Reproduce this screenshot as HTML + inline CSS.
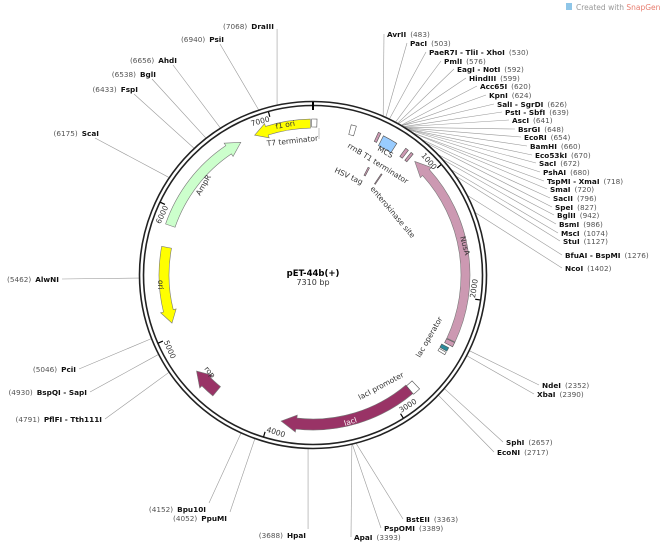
<!DOCTYPE html>
<html><head><meta charset="utf-8"><style>
body{margin:0;background:#fff;}
svg{display:block;font-family:"DejaVu Sans","Liberation Sans",sans-serif;}
.n{font-size:7.3px;fill:#555;}
.b{font-size:7.3px;font-weight:bold;fill:#111;}
.f{font-size:7.5px;fill:#333;}
</style></head><body>
<svg id="s" width="660" height="547" viewBox="0 0 660 547" xmlns="http://www.w3.org/2000/svg">
<text x="576" y="10" style="font-size:7.5px;fill:#999">Created with <tspan fill="#e87d6f">SnapGene</tspan>®</text>
<rect x="566" y="3" width="6" height="7" fill="#8fc6e8"/>
<g id="lines" stroke="#999" stroke-width="0.6" fill="none"></g>
<circle cx="313" cy="275" r="173.5" fill="none" stroke="#222" stroke-width="1.6"/>
<circle cx="313" cy="275" r="169.5" fill="none" stroke="#222" stroke-width="1.6"/>
<line x1="313" y1="102" x2="313" y2="110" stroke="#000" stroke-width="2"/>
<g id="feat"></g>
<g id="txt"></g>
<text x="313" y="276" text-anchor="middle" style="font-size:8.5px;font-weight:bold">pET-44b(+)</text>
<text x="313" y="285" text-anchor="middle" style="font-size:8px;fill:#333">7310 bp</text>
<text class="f" transform="translate(267,146) rotate(-6)">T7 terminator</text>
<line x1="319" y1="128" x2="319" y2="139" stroke="#999" stroke-width="0.6"/>
<text class="f" transform="translate(347,147) rotate(32)">rrnB T1 terminator</text>
<text class="f" transform="translate(377,150) rotate(30)">MCS</text>
<text class="f" transform="translate(334,172) rotate(25)">HSV tag</text>
<text class="f" transform="translate(370,189) rotate(50)">enterokinase site</text>
<text class="f" transform="translate(420,358) rotate(-60)">lac operator</text>
<text class="f" transform="translate(360,400) rotate(-28)">lacI promoter</text>
<text class="f" transform="translate(204,369) rotate(50)">rop</text>
<text class="f" transform="translate(200,196) rotate(-60)">AmpR</text>
<text class="f" transform="translate(158,280) rotate(90)">ori</text>
<text class="f" transform="translate(276,129) rotate(-10)">f1 ori</text>
<text class="f" transform="translate(460,237) rotate(75)">NusA</text>
<text style="font-size:7.5px;fill:#fff" transform="translate(345,426) rotate(-18)">lacI</text>
</svg>
<script>
var cx=313,cy=275,N=7310,NS="http://www.w3.org/2000/svg";
function P(pos,r){var a=pos/N*2*Math.PI;return [cx+r*Math.sin(a),cy-r*Math.cos(a)];}
function el(t,at,par){var e=document.createElementNS(NS,t);for(var k in at)e.setAttribute(k,at[k]);document.getElementById(par).appendChild(e);return e;}
function arc(p1,p2,r){var b=P(p2,r);var lg=(p2-p1)/N>0.5?1:0;return "A"+r+","+r+" 0 "+lg+" 1 "+b[0]+","+b[1];}
function arcR(p1,p2,r){var b=P(p1,r);var lg=(p2-p1)/N>0.5?1:0;return "A"+r+","+r+" 0 "+lg+" 0 "+b[0]+","+b[1];}
function arrow(s,e,cw,ri,ro,col,h){h=h||110;var rm=(ri+ro)/2,d;
 if(cw){var b=e-h;var p=P(s,ri),q=P(s,ro);
  d="M"+p+" L"+q+" "+arc(s,b,ro)+" L"+P(b,ro+3)+" L"+P(e,rm)+" L"+P(b,ri-3)+" L"+P(b,ri)+" "+arcR(s,b,ri)+"Z";}
 else{var b=s+h;
  d="M"+P(s,rm)+" L"+P(b,ro+3)+" L"+P(b,ro)+" "+arc(b,e,ro)+" L"+P(e,ri)+" "+arcR(b,e,ri)+" L"+P(b,ri-3)+"Z";}
 el("path",{d:d,fill:col,stroke:"#777","stroke-width":0.6},"feat");}
function box(s,e,ri,ro,col){var d="M"+P(s,ri)+" L"+P(s,ro)+" "+arc(s,e,ro)+" L"+P(e,ri)+" "+arcR(s,e,ri)+"Z";el("path",{d:d,fill:col,stroke:"#555","stroke-width":0.6},"feat");}
arrow(6850,7290,false,147,156,"#ffff00",100);
arrow(5870,6730,true,146,156,"#ccffcc",110);
arrow(5100,5700,false,144,154,"#ffff00",100);
arrow(4460,4680,true,145,157,"#993366",110);
arrow(2840,3905,true,144,155,"#993366",120);
arrow(850,2340,false,148,157,"#cc99b2",120);
box(7300,7340,148,156,"#fff");
box(290,330,145,155,"#fff");
box(545,660,145,156,"#99ccff");
box(500,520,147,157,"#cc99b2");box(735,760,147,157,"#cc99b2");box(785,805,147,157,"#cc99b2");
box(550,565,112,121,"#cc99b2");box(690,700,110,122,"#cc99b2");
box(2345,2380,148,157,"#cc99b2");box(2400,2430,146,154,"#2a8a9a");box(2440,2460,146,154,"#fff");
box(2780,2840,145,156,"#fff");
for(var k=1;k<=7;k++){var p=k*1000,a1=P(p,169),a2=P(p,164);el("line",{x1:a1[0],y1:a1[1],x2:a2[0],y2:a2[1],stroke:"#000","stroke-width":1.2},"feat");
 var deg=p/N*360,rot=(deg>90&&deg<270)?deg-180:deg;var t=P(p-75,162);
 var tx=el("text",{"class":"f",transform:"translate("+t[0]+","+t[1]+") rotate("+rot+")","text-anchor":"middle","dominant-baseline":"middle"},"txt");tx.textContent=String(p);}
var R=[["AvrII",483,387,34],["PacI",503,410,43],["PaeR7I - TliI - XhoI",530,429,52],["PmlI",576,444,61],["EagI - NotI",592,457,69],["HindIII",599,469,78],["Acc65I",620,480,86],["KpnI",624,489,95],["SalI - SgrDI",626,497,104],["PstI - SbfI",639,505,112],["AscI",641,512,120],["BsrGI",648,518,129],["EcoRI",654,524,137],["BamHI",660,530,146],["Eco53kI",670,535,155],["SacI",672,539,163],["PshAI",680,543,172],["TspMI - XmaI",718,547,181],["SmaI",720,550,189],["SacII",796,553,198],["SpeI",827,555,207],["BglII",942,557,215],["BsmI",986,559,224],["MscI",1074,561,233],["StuI",1127,563,241],["BfuAI - BspMI",1276,565,255],["NcoI",1402,565,268],["NdeI",2352,542,385],["XbaI",2390,537,394],["SphI",2657,506,442],["EcoNI",2717,497,452],["BstEII",3363,406,519],["PspOMI",3389,384,528],["ApaI",3393,354,537]];
var L=[["HpaI",3688,306,535],["PpuMI",4052,227,518],["Bpu10I",4152,206,509],["PflFI - Tth111I",4791,102,419],["BspQI - SapI",4930,87,392],["PciI",5046,76,369],["AlwNI",5462,59,279],["ScaI",6175,99,133],["FspI",6433,138,89],["BglI",6538,156,74],["AhdI",6656,177,60],["PsiI",6940,224,39],["DraIII",7068,274,26]];
function line(a,b){el("line",{x1:a[0],y1:a[1],x2:b[0],y2:b[1]},"lines");}
R.forEach(function(r){var t=el("text",{x:r[2],y:r[3]+3},"txt");t.innerHTML='<tspan class="b">'+r[0]+'</tspan><tspan class="n" dx="4">('+r[1]+')</tspan>';
 var c=P(r[1],174);line(c,[r[2]-3,r[3]]);});
L.forEach(function(r){var t=el("text",{x:r[2],y:r[3]+3,"text-anchor":"end"},"txt");t.innerHTML='<tspan class="n">('+r[1]+')</tspan><tspan class="b" dx="4">'+r[0]+'</tspan>';
 var c=P(r[1],174);var sx=r[2]+3,sy=r[3];
 if(r[1]==7068||r[1]==3688){sx=c[0];sy=r[1]==7068?r[3]+3:r[3]-6;}
 else if(r[3]<260&&r[1]>6000){sx=r[2]-4;sy=r[3]+5;}
 else if(r[1]<4300){sx=r[2]+3;sy=r[3]-6;}
 line(c,[sx,sy]);});
</script>
</body></html>
